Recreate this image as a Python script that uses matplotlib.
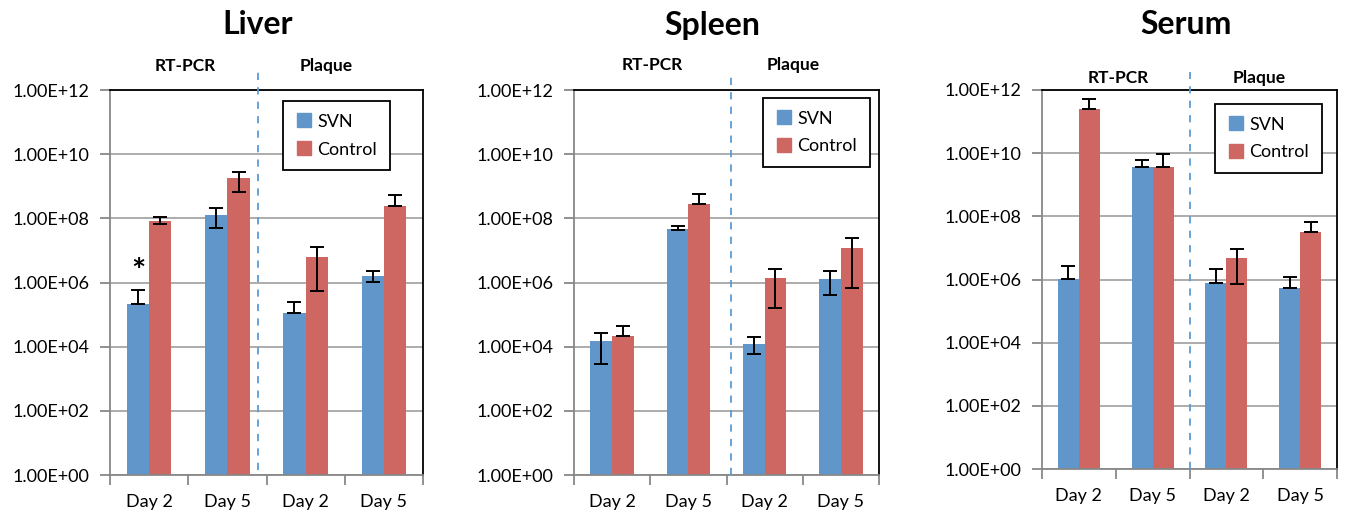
import numpy as np
import matplotlib
matplotlib.use("Agg")
import matplotlib.pyplot as plt
from matplotlib.lines import Line2D
import matplotlib.transforms as mtransforms

plt.rcParams['font.family'] = ['Lato', 'DejaVu Sans']

# data (log10 of the values)
days = ["Day 2", "Day 5", "Day 2", "Day 5"]
panels = ["Liver", "Spleen", "Serum"]

liver_svn = [5.33, 8.10, 5.06, 6.21]
liver_svn_lo = [5.33, 7.69, 5.06, 6.01]
liver_svn_hi = [5.77, 8.33, 5.38, 6.37]
liver_ctl = [7.93, 9.25, 6.81, 8.38]
liver_ctl_lo = [7.83, 8.83, 5.75, 8.38]
liver_ctl_hi = [8.04, 9.44, 7.10, 8.72]

spleen_svn = [4.18, 7.68, 4.09, 6.12]
spleen_svn_lo = [3.45, 7.63, 3.77, 5.61]
spleen_svn_hi = [4.44, 7.75, 4.29, 6.36]
spleen_ctl = [4.32, 8.45, 6.14, 7.09]
spleen_ctl_lo = [4.32, 8.45, 5.21, 5.84]
spleen_ctl_hi = [4.65, 8.77, 6.42, 7.40]

serum_svn = [6.03, 9.57, 5.90, 5.72]
serum_svn_lo = [6.03, 9.57, 5.90, 5.72]
serum_svn_hi = [6.44, 9.77, 6.33, 6.09]
serum_ctl = [11.40, 9.55, 6.67, 7.50]
serum_ctl_lo = [11.40, 9.55, 5.86, 7.50]
serum_ctl_hi = [11.72, 9.96, 6.96, 7.81]

BLUE = '#6196CB'
RED = '#CE6661'
GRID = '#A6A6A6'

W, H = 1345, 515
fig = plt.figure(figsize=(W / 100, H / 100), dpi=100)


def px_axes(left, right, top, bottom):
    return fig.add_axes([left / W, (H - bottom) / H, (right - left) / W, (bottom - top) / H])


def draw_panel(ax, svn, svn_lo, svn_hi, ctl, ctl_lo, ctl_hi, split_x, split_y, head_x, head_y, leg_xy):
    x = np.arange(len(days))
    w = 0.285
    svn_v = 10 ** np.array(svn)
    ctl_v = 10 ** np.array(ctl)
    svn_err = [svn_v - 10 ** np.array(svn_lo), 10 ** np.array(svn_hi) - svn_v]
    ctl_err = [ctl_v - 10 ** np.array(ctl_lo), 10 ** np.array(ctl_hi) - ctl_v]

    ax.bar(x - w / 2, svn_v, w, color=BLUE, zorder=2)
    ax.bar(x + w / 2, ctl_v, w, color=RED, zorder=2)
    ax.errorbar(x - w / 2, svn_v, yerr=svn_err, fmt='none', ecolor='black',
                elinewidth=1.4, capsize=5, capthick=1.4, zorder=3)
    ax.errorbar(x + w / 2, ctl_v, yerr=ctl_err, fmt='none', ecolor='black',
                elinewidth=1.4, capsize=5, capthick=1.4, zorder=3)

    ax.set_yscale('log')
    ax.set_ylim(1, 1e12)
    ax.set_xlim(-0.5, 3.5)
    yt = [10.0 ** k for k in range(0, 13, 2)]
    ax.set_yticks(yt)
    ax.set_yticklabels(["1.00E+%02d" % k for k in range(0, 13, 2)])
    ax.yaxis.set_minor_locator(matplotlib.ticker.NullLocator())
    ax.grid(axis='y', color=GRID, lw=1.3, zorder=0)
    ax.set_axisbelow(True)

    ax.set_xticks(x)
    ax.set_xticklabels(days)
    ax.set_xticks(np.arange(-0.5, 4.0, 1.0), minor=True)
    ax.tick_params(axis='x', which='major', length=0, pad=14, labelsize=13)
    ax.tick_params(axis='x', which='minor', length=7, width=1.3, color='#888888', direction='out')
    ax.tick_params(axis='y', which='major', length=7, width=1.3, color='#888888', pad=8, labelsize=13)

    for s in ['left', 'bottom']:
        ax.spines[s].set_color('#888888')
        ax.spines[s].set_linewidth(1.3)
    for s in ['top', 'right']:
        ax.spines[s].set_color('black')
        ax.spines[s].set_linewidth(1.3)

    # dashed divider between RT-PCR and Plaque groups
    trans = mtransforms.blended_transform_factory(ax.transData, ax.transAxes)
    ax.plot([split_x, split_x], split_y, transform=trans, color='#5B9BD5', lw=1.3,
            dashes=(4, 4), clip_on=False, zorder=4)
    ax.text(head_x[0], head_y, "RT-PCR", transform=trans, ha='center', va='center',
            fontsize=12.5, fontweight='bold')
    ax.text(head_x[1], head_y, "Plaque", transform=trans, ha='center', va='center',
            fontsize=12.5, fontweight='bold')

    handles = [Line2D([], [], ls='none', marker='s', markersize=10, color=BLUE),
               Line2D([], [], ls='none', marker='s', markersize=10, color=RED)]
    leg = ax.legend(handles, ["SVN", "Control"], loc='upper left', bbox_to_anchor=leg_xy,
                    borderaxespad=0, fancybox=False, framealpha=1, edgecolor='black',
                    fontsize=13, labelspacing=0.65, handletextpad=0.3, handlelength=0.9,
                    borderpad=0.7)
    leg.get_frame().set_linewidth(1.3)
    return x, w


ax1 = px_axes(110, 423, 90, 475)
x, w = draw_panel(ax1, liver_svn, liver_svn_lo, liver_svn_hi, liver_ctl, liver_ctl_lo, liver_ctl_hi,
                  1.39, [0.013, 1.057], [0.46, 2.26], 1.062, (0.553, 0.971))
ax1.text(x[0] - w / 2, 10 ** 6.3, "*", ha='center', va='center', fontsize=24, fontweight='bold')

ax2 = px_axes(574, 879, 90, 475)
draw_panel(ax2, spleen_svn, spleen_svn_lo, spleen_svn_hi, spleen_ctl, spleen_ctl_lo, spleen_ctl_hi,
           1.56, [0.0, 1.034], [0.52, 2.37], 1.065, (0.62, 0.979))

ax3 = px_axes(1042, 1337, 90, 469)
draw_panel(ax3, serum_svn, serum_svn_lo, serum_svn_hi, serum_ctl, serum_ctl_lo, serum_ctl_hi,
           1.5, [0.0, 1.047], [0.53, 2.44], 1.032, (0.586, 0.963))

for name, cx in zip(panels, [258, 712, 1186]):
    fig.text(cx / W, (H - 25) / H, name, ha='center', va='center', fontsize=23, fontweight='bold')

fig.savefig("out.png", dpi=100)
